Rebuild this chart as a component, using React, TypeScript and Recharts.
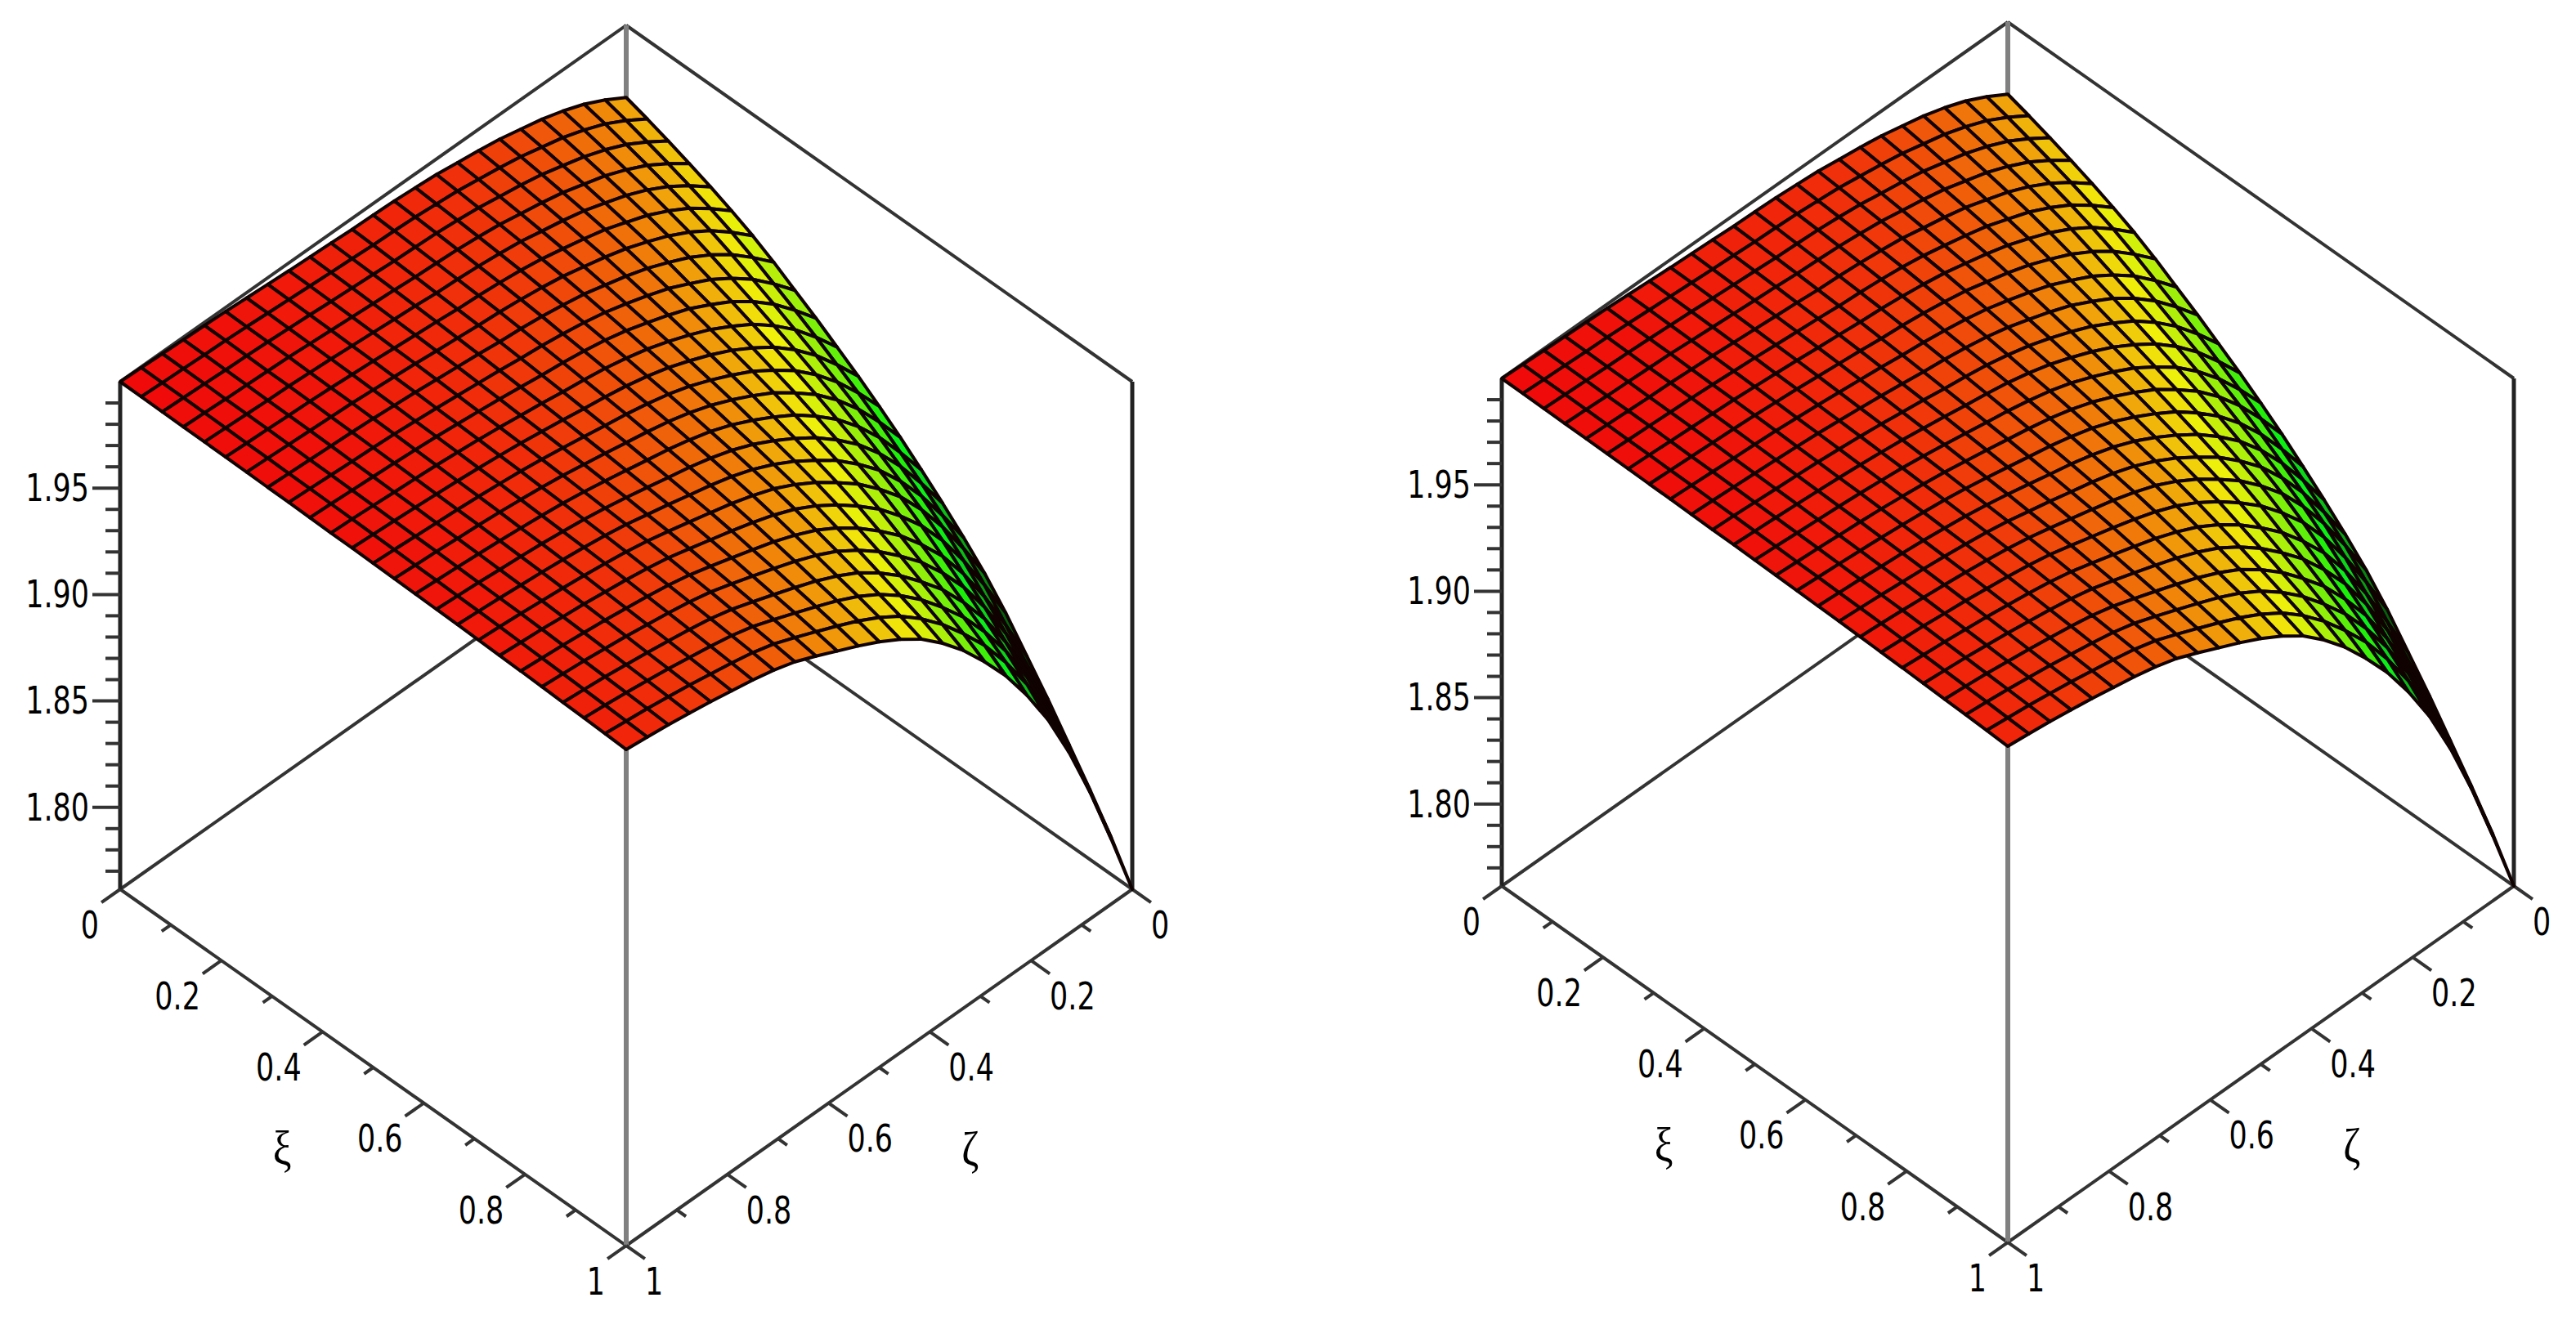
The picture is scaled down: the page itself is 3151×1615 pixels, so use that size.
import React from "react";
import { ScatterChart, Scatter, XAxis, YAxis } from "recharts";

const CHART_WIDTH = 3151;
const CHART_HEIGHT = 1615;

const Z_MAX = 2.0;
const Z_MIN = 1.7615;

const zMajorTicks = [1.8, 1.85, 1.9, 1.95];
const zMinorTicks = [1.77, 1.78, 1.79, 1.81, 1.82, 1.83, 1.84, 1.86, 1.87, 1.88, 1.89, 1.91, 1.92, 1.93, 1.94, 1.96, 1.97, 1.98, 1.99];
const baseMajorTicks = [0, 0.2, 0.4, 0.6, 0.8, 1];
const baseMinorTicks = [0.1, 0.3, 0.5, 0.7, 0.9];
const baseTickLabels = ["0", "0.2", "0.4", "0.6", "0.8", "1"];

// drop below z = 2, in units of 0.0001
// rows: zeta from 1 down to 0 in steps of 1/24, columns: xi from 0 to 1 in steps of 1/24
const surfaceDrop = [
  [0, 1, 2, 3, 4, 5, 6, 8, 9, 11, 13, 14, 16, 18, 20, 23, 25, 28, 31, 34, 38, 42, 45, 49, 54],
  [4, 5, 6, 7, 8, 10, 11, 13, 14, 16, 18, 20, 22, 25, 27, 30, 32, 35, 39, 43, 47, 51, 55, 60, 65],
  [8, 9, 10, 12, 13, 14, 16, 18, 20, 22, 24, 26, 29, 31, 34, 37, 40, 43, 47, 52, 56, 61, 66, 71, 77],
  [12, 13, 15, 16, 18, 19, 21, 23, 26, 28, 31, 33, 36, 39, 42, 46, 49, 53, 58, 63, 68, 74, 79, 85, 92],
  [15, 16, 18, 20, 21, 23, 26, 28, 31, 34, 37, 40, 43, 46, 50, 54, 58, 63, 68, 74, 80, 87, 93, 100, 108],
  [19, 21, 23, 24, 27, 29, 31, 34, 37, 41, 44, 48, 51, 55, 60, 64, 69, 74, 81, 88, 95, 102, 110, 118, 127],
  [25, 27, 29, 31, 33, 36, 39, 42, 46, 49, 53, 57, 61, 66, 71, 76, 81, 87, 94, 102, 110, 118, 127, 136, 146],
  [31, 33, 35, 38, 41, 43, 47, 50, 55, 59, 63, 68, 72, 78, 83, 89, 95, 102, 110, 119, 128, 137, 147, 157, 169],
  [37, 39, 42, 45, 48, 52, 55, 60, 65, 70, 75, 80, 86, 92, 99, 106, 113, 121, 130, 141, 151, 163, 174, 186, 200],
  [42, 45, 48, 52, 56, 60, 65, 70, 76, 82, 89, 95, 102, 110, 118, 126, 136, 145, 157, 170, 183, 197, 211, 226, 243],
  [46, 50, 54, 58, 63, 68, 74, 80, 87, 95, 102, 110, 119, 128, 138, 148, 159, 171, 185, 200, 216, 233, 250, 268, 289],
  [52, 56, 61, 66, 72, 78, 84, 92, 100, 109, 118, 127, 137, 147, 159, 171, 184, 197, 213, 232, 250, 270, 290, 311, 335],
  [54, 59, 65, 71, 77, 84, 91, 100, 110, 120, 131, 142, 153, 166, 179, 193, 208, 224, 243, 264, 286, 309, 332, 357, 385],
  [58, 64, 70, 77, 85, 93, 102, 112, 124, 135, 147, 160, 174, 188, 204, 220, 237, 256, 278, 303, 328, 355, 381, 410, 443],
  [65, 72, 79, 87, 96, 105, 116, 128, 141, 154, 169, 184, 199, 216, 234, 253, 273, 294, 320, 349, 378, 409, 441, 474, 512],
  [73, 81, 90, 99, 109, 121, 133, 147, 163, 179, 196, 213, 231, 251, 273, 295, 319, 344, 374, 408, 443, 480, 517, 556, 601],
  [87, 96, 107, 118, 130, 143, 157, 174, 192, 211, 230, 251, 272, 295, 321, 347, 374, 404, 439, 479, 520, 563, 606, 653, 705],
  [100, 111, 123, 136, 150, 166, 182, 202, 224, 246, 269, 293, 318, 345, 375, 406, 439, 474, 515, 562, 610, 661, 712, 766, 828],
  [116, 129, 143, 158, 174, 192, 212, 235, 260, 285, 313, 341, 370, 401, 436, 472, 510, 551, 599, 654, 709, 768, 828, 891, 963],
  [139, 154, 171, 188, 207, 228, 250, 277, 307, 336, 368, 400, 435, 471, 511, 553, 597, 644, 701, 765, 829, 898, 966, 1040, 1124],
  [162, 179, 199, 219, 241, 265, 292, 323, 357, 391, 428, 466, 506, 549, 596, 644, 695, 750, 816, 890, 965, 1045, 1126, 1212, 1309],
  [193, 213, 236, 260, 285, 314, 344, 381, 421, 461, 504, 548, 595, 644, 699, 755, 816, 880, 956, 1043, 1130, 1224, 1318, 1418, 1532],
  [231, 254, 281, 309, 339, 371, 407, 449, 496, 543, 593, 644, 699, 756, 820, 886, 956, 1031, 1120, 1221, 1322, 1431, 1541, 1658, 1790],
  [281, 308, 339, 371, 405, 443, 484, 533, 587, 641, 698, 758, 820, 887, 961, 1036, 1117, 1203, 1306, 1423, 1540, 1666, 1791, 1926, 2079],
  [339, 370, 404, 441, 480, 523, 570, 625, 687, 748, 814, 881, 953, 1029, 1112, 1198, 1290, 1389, 1505, 1638, 1771, 1914, 2058, 2211, 2385],
];

const CELLS = surfaceDrop.length - 1;

// view of the box, same in both plots
const RUN = 619;
const RISE = 436;
const Z_SPAN = 621;
const TICK_MAJOR = 0.037;
const TICK_MINOR = 0.018;

const panels = [
  { originX: 147, originY: 1088 },
  { originX: 1837, originY: 1084 },
];

type Panel = (typeof panels)[number];

const project = (panel: Panel, xi: number, zeta: number, z: number) => ({
  x: panel.originX + (xi + 1 - zeta) * RUN,
  y: panel.originY + (xi - (1 - zeta)) * RISE - ((z - Z_MIN) / (Z_MAX - Z_MIN)) * Z_SPAN,
});

const surfacePoints = (panel: Panel) =>
  surfaceDrop.flatMap((row, i) =>
    row.map((drop, j) => project(panel, j / CELLS, 1 - i / CELLS, Z_MAX - drop / 10000))
  );

// red at the top through yellow to green, going dark where the wires bunch up
const hueColor = (drop: number) => {
  const norm = drop / ((Z_MAX - Z_MIN) * 10000);
  const hue = Math.min(Math.round(295 * norm), 125);
  const light = norm > 0.42 ? Math.max(6, 49 - (norm - 0.42) * 150) : 49;
  return `hsl(${hue}, 92%, ${light}%)`;
};

// the scatter hands its scaled points to the line renderer, each cell is drawn from them
const renderSurface = ({ points }: any) => {
  const size = CELLS + 1;
  const cells = [];
  for (let i = CELLS - 1; i >= 0; i--) {
    for (let j = 0; j < CELLS; j++) {
      const a = points[i * size + j];
      const b = points[i * size + j + 1];
      const c = points[(i + 1) * size + j + 1];
      const d = points[(i + 1) * size + j];
      const drop = (surfaceDrop[i][j] + surfaceDrop[i][j + 1] + surfaceDrop[i + 1][j + 1] + surfaceDrop[i + 1][j]) / 4;
      cells.push(
        <path
          key={`${i}-${j}`}
          d={`M${a.x},${a.y}L${b.x},${b.y}L${c.x},${c.y}L${d.x},${d.y}Z`}
          fill={hueColor(drop)}
          stroke="#100200"
          strokeWidth={4}
          strokeLinejoin="round"
        />
      );
    }
  }
  return <g>{cells}</g>;
};

const segmentRenderer = (stroke: string, width: number) => ({ points }: any) => {
  const lines = [];
  for (let k = 0; k + 1 < points.length; k += 2) {
    lines.push(
      <line key={k} x1={points[k].x} y1={points[k].y} x2={points[k + 1].x} y2={points[k + 1].y} stroke={stroke} strokeWidth={width} />
    );
  }
  return <g>{lines}</g>;
};

const noMarker = () => <g />;

const thinFrame = (p: Panel) => [
  project(p, 0, 1, Z_MAX), project(p, 0, 0, Z_MAX),
  project(p, 0, 0, Z_MAX), project(p, 1, 0, Z_MAX),
  project(p, 0, 1, Z_MIN), project(p, 0, 0, Z_MIN),
  project(p, 0, 0, Z_MIN), project(p, 1, 0, Z_MIN),
  project(p, 0, 1, Z_MIN), project(p, 1, 1, Z_MIN),
  project(p, 1, 1, Z_MIN), project(p, 1, 0, Z_MIN),
];

const darkVerticals = (p: Panel) => [
  project(p, 0, 1, Z_MAX), project(p, 0, 1, Z_MIN),
  project(p, 1, 0, Z_MAX), project(p, 1, 0, Z_MIN),
];

const grayVerticals = (p: Panel) => [
  project(p, 1, 1, Z_MAX), project(p, 1, 1, Z_MIN),
  project(p, 0, 0, Z_MAX), project(p, 0, 0, Z_MIN),
];

const tickSegments = (p: Panel) => {
  const out = [];
  for (const [ticks, len] of [[baseMajorTicks, TICK_MAJOR], [baseMinorTicks, TICK_MINOR]] as [number[], number][]) {
    for (const v of ticks) {
      out.push(project(p, v, 1, Z_MIN), project(p, v, 1 + len, Z_MIN));
      out.push(project(p, 1, v, Z_MIN), project(p, 1 + len, v, Z_MIN));
    }
  }
  for (const z of zMajorTicks) {
    const at = project(p, 0, 1, z);
    out.push(at, { x: at.x - 34, y: at.y });
  }
  for (const z of zMinorTicks) {
    const at = project(p, 0, 1, z);
    out.push(at, { x: at.x - 18, y: at.y });
  }
  return out;
};

const labelPoints = (p: Panel) => {
  const out: any[] = [];
  baseMajorTicks.forEach((v, k) => {
    const left = project(p, v, 1 + TICK_MAJOR, Z_MIN);
    out.push({ x: left.x - 3, y: left.y + 28, label: baseTickLabels[k], anchor: "end" });
    const right = project(p, 1 + TICK_MAJOR, v, Z_MIN);
    out.push({ x: right.x, y: right.y + 28, label: baseTickLabels[k], anchor: "start" });
  });
  zMajorTicks.forEach((z) => {
    const at = project(p, 0, 1, z);
    out.push({ x: at.x - 38, y: at.y, label: z.toFixed(2), anchor: "end" });
  });
  return out;
};

const axisNamePoints = (p: Panel) => {
  const xi = project(p, 0.5, 1.18, Z_MIN);
  const zeta = project(p, 1.18, 0.5, Z_MIN);
  return [
    { x: xi.x, y: xi.y + 20, label: "ξ" },
    { x: zeta.x, y: zeta.y + 20, label: "ζ" },
  ];
};

const renderTickLabel = ({ cx, cy, payload }: any) => (
  <text
    transform={`translate(${cx},${cy}) scale(0.76,1)`}
    textAnchor={payload.anchor}
    dominantBaseline="central"
    fontFamily="DejaVu Sans"
    fontSize={46}
    fill="#000"
  >
    {payload.label}
  </text>
);

const renderAxisName = ({ cx, cy, payload }: any) => (
  <text
    transform={`translate(${cx},${cy}) scale(0.85,1)`}
    textAnchor="middle"
    dominantBaseline="central"
    fontFamily="Liberation Serif"
    fontSize={60}
    fill="#000"
  >
    {payload.label}
  </text>
);

export default function App() {
  return (
    <div style={{ position: "absolute", left: 0, top: 0, background: "#fff" }}>
      <ScatterChart width={CHART_WIDTH} height={CHART_HEIGHT} margin={{ top: 0, right: 0, bottom: 0, left: 0 }}>
        <XAxis type="number" dataKey="x" domain={[0, CHART_WIDTH]} hide />
        <YAxis type="number" dataKey="y" domain={[0, CHART_HEIGHT]} reversed hide />
        {panels.map((p, n) => (
          <Scatter key={`frame-${n}`} data={thinFrame(p)} line={segmentRenderer("#333", 4)} shape={noMarker} isAnimationActive={false} />
        ))}
        {panels.map((p, n) => (
          <Scatter key={`dark-${n}`} data={darkVerticals(p)} line={segmentRenderer("#222", 5)} shape={noMarker} isAnimationActive={false} />
        ))}
        {panels.map((p, n) => (
          <Scatter key={`gray-${n}`} data={grayVerticals(p)} line={segmentRenderer("#808080", 6)} shape={noMarker} isAnimationActive={false} />
        ))}
        {panels.map((p, n) => (
          <Scatter key={`ticks-${n}`} data={tickSegments(p)} line={segmentRenderer("#333", 4)} shape={noMarker} isAnimationActive={false} />
        ))}
        {panels.map((p, n) => (
          <Scatter key={`surface-${n}`} data={surfacePoints(p)} line={renderSurface} shape={noMarker} isAnimationActive={false} />
        ))}
        {panels.map((p, n) => (
          <Scatter key={`labels-${n}`} data={labelPoints(p)} shape={renderTickLabel} isAnimationActive={false} />
        ))}
        {panels.map((p, n) => (
          <Scatter key={`names-${n}`} data={axisNamePoints(p)} shape={renderAxisName} isAnimationActive={false} />
        ))}
      </ScatterChart>
    </div>
  );
}
